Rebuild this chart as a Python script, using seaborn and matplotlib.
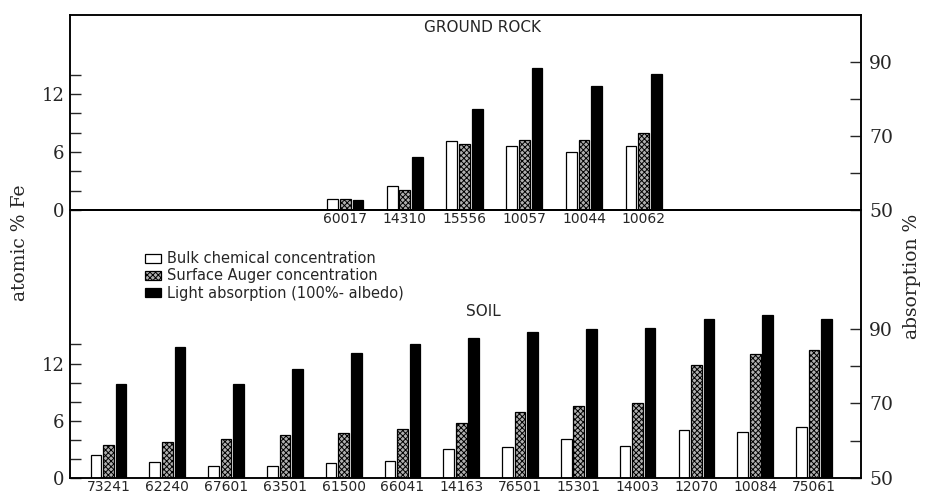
import matplotlib
matplotlib.use('Agg')
import matplotlib.pyplot as plt
import matplotlib.ticker as mticker
from matplotlib.patches import Patch
import pandas as pd
import seaborn as sns

# values (Fe in atomic %, absorption in %)
rock_samples = ['60017', '14310', '15556', '10057', '10044', '10062']
rock_bulk = [1.1, 2.5, 7.1, 6.6, 6.0, 6.6]
rock_auger = [1.15, 2.05, 6.85, 7.2, 7.2, 8.0]
rock_absorption = [52.8, 64.2, 77.2, 88.4, 83.5, 86.8]

soil_samples = ['73241', '62240', '67601', '63501', '61500', '66041', '14163',
                '76501', '15301', '14003', '12070', '10084', '75061']
soil_bulk = [2.45, 1.7, 1.25, 1.25, 1.6, 1.75, 3.0, 3.2, 4.1, 3.35, 5.0, 4.85, 5.3]
soil_auger = [3.5, 3.8, 4.1, 4.5, 4.75, 5.1, 5.75, 6.9, 7.55, 7.85, 11.9, 13.05, 13.45]
soil_absorption = [75.1, 85.1, 75.1, 79.3, 83.4, 85.9, 87.5, 89.0, 90.0, 90.2, 92.6, 93.6, 92.7]

series = ['Bulk chemical concentration', 'Surface Auger concentration',
          'Light absorption (100%- albedo)']
colors = {series[0]: 'white', series[1]: '#b0b0b0', series[2]: 'black'}

sns.set_style('white')
plt.rcParams['font.family'] = ['DejaVu Serif']
plt.rcParams['hatch.linewidth'] = 0.7
plt.rcParams['axes.linewidth'] = 1.1

SANS = 'DejaVu Sans'


def long_table(samples, bulk, auger, absorption):
    n = len(samples)
    return pd.DataFrame({
        'sample': samples * 3,
        'series': [s for s in series for _ in range(n)],
        'value': bulk + auger + absorption,
    })


def draw_panel(ax, samples, bulk, auger, absorption, fe_top, abs_top, xlim):
    df = long_table(samples, bulk, auger, absorption)
    fe = df[df['series'] != series[2]]
    ab = df[df['series'] == series[2]]
    kw = dict(x='sample', y='value', hue='series', hue_order=series, order=samples,
              palette=colors, width=0.64, gap=0.15, dodge=True, edgecolor='black',
              linewidth=0.9, errorbar=None, legend=False)
    sns.barplot(data=fe, ax=ax, **kw)
    axr = ax.twinx()
    sns.barplot(data=ab, ax=axr, **kw)

    for bar in ax.patches:
        if abs(bar.get_facecolor()[0] - 0.69) < 0.02:
            bar.set_hatch('xxxxxx')

    ax.set_xlim(*xlim)
    ax.set_ylim(0, fe_top)
    axr.set_ylim(50, abs_top)
    ax.set_xlabel('')
    ax.set_ylabel('')
    axr.set_ylabel('')
    ax.set_facecolor('none')
    axr.set_facecolor('none')

    ax.yaxis.set_major_locator(mticker.FixedLocator([0, 6, 12]))
    ax.yaxis.set_minor_locator(mticker.FixedLocator([2, 4, 8, 10, 14]))
    axr.yaxis.set_major_locator(mticker.FixedLocator([50, 70, 90]))
    axr.yaxis.set_minor_locator(mticker.FixedLocator([60, 80]))
    ax.tick_params(axis='y', which='both', direction='in', length=8, width=1,
                   labelsize=13, pad=4)
    axr.tick_params(axis='y', which='both', direction='in', length=8, width=1,
                    labelsize=13.5, pad=6)
    ax.tick_params(axis='x', length=0, pad=1.5, labelsize=10)
    for lab in ax.get_xticklabels():
        lab.set_fontfamily(SANS)
    for a in (ax, axr):
        for sp in a.spines.values():
            sp.set_color('black')
            sp.set_linewidth(1.1)
    return axr


fig = plt.figure(figsize=(9.26, 4.93), dpi=100)
W, H = 926, 493
left, right = 70 / W, 861 / W
ax_top = fig.add_axes([left, (H - 210) / H, right - left, 195 / H])
ax_bot = fig.add_axes([left, (H - 478) / H, right - left, 268 / H])

draw_panel(ax_top, rock_samples, rock_bulk, rock_auger, rock_absorption,
           fe_top=20.2, abs_top=102.7, xlim=(-4.61, 8.64))
draw_panel(ax_bot, soil_samples, soil_bulk, soil_auger, soil_absorption,
           fe_top=28.1, abs_top=121.8, xlim=(-0.655, 12.8))

fig.text(483 / W, 1 - 28 / H, 'GROUND ROCK', family=SANS, fontsize=11,
         ha='center', va='center')
fig.text(483 / W, 1 - 312 / H, 'SOIL', family=SANS, fontsize=11,
         ha='center', va='center')
fig.text(20 / W, 1 - 243 / H, 'atomic % Fe', fontsize=13.5, rotation=90,
         ha='center', va='center')
fig.text(912 / W, 1 - 276 / H, 'absorption %', fontsize=13.5, rotation=90,
         ha='center', va='center')

handles = [Patch(facecolor='white', edgecolor='black', linewidth=0.9),
           Patch(facecolor='#b0b0b0', edgecolor='black', hatch='xxxxxx', linewidth=0.9),
           Patch(facecolor='black', edgecolor='black', linewidth=0.9)]
fig.legend(handles, series, loc='upper left', bbox_to_anchor=(138 / W, 1 - 244 / H),
           frameon=False, prop={'family': SANS, 'size': 10.5}, handlelength=1.1,
           handleheight=0.6, handletextpad=0.4, labelspacing=0.15, borderpad=0)

fig.savefig('out.png', dpi=100)
